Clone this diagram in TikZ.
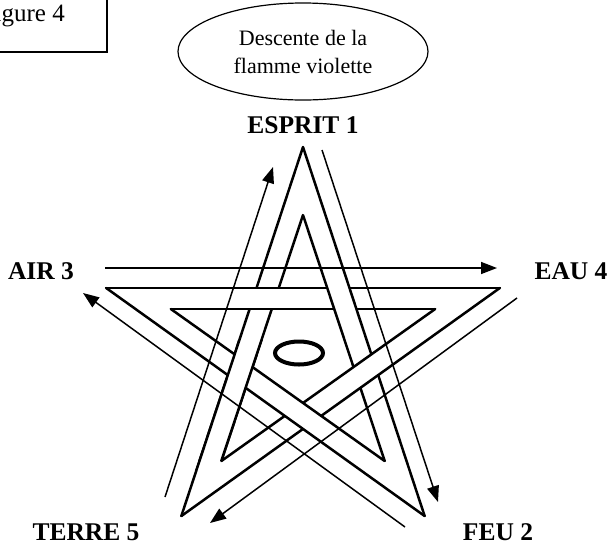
\documentclass[tikz,border=0pt]{standalone}
\usepackage{fontspec}
\setmainfont{Liberation Serif}
\usetikzlibrary{arrows.meta,shapes.geometric}

\tikzset{
  bandedge/.style={line width=2.5pt, line cap=round},
  flow/.style={line width=1.5pt, -{Triangle[length=16pt,width=12pt]}},
  element/.style={font=\fontsize{25.5}{30}\selectfont\bfseries, inner sep=0pt, anchor=base},
}

% one band of the star, from tip #1 to tip #2
\newcommand{\starband}[2]{%
  \fill[white] (o#1) -- (o#2) -- (i#2) -- (i#1) -- cycle;
  \draw[bandedge] (o#1) -- (o#2) (i#1) -- (i#2);
}

\begin{document}
\begin{tikzpicture}[x=1pt,y=-1pt]
    \path[use as bounding box, clip] (0,0) rectangle (612,547);
    \fill[white] (0,0) rectangle (612,547);

    % caption box, cut by the page edge
    \draw[line width=1.2pt] (-20,-20) rectangle (107,52);
    \node[font=\fontsize{25}{30}\selectfont, anchor=base east, inner sep=0pt] (fig) at (65,21) {Figure 4};

    \node[draw, ellipse, line width=1.2pt, minimum width=250pt, minimum height=97pt,
        align=center, font=\fontsize{22}{28}\selectfont] (flame) at (303,51.5)
        {Descente de la\\flamme violette};

    % tips of the star, outer and inner
    \coordinate (c) at (303,351);
    \foreach \n/\a in {T/-90,R/-18,BR/54,BL/126,L/198}{
        \path (c) ++(\a:207 and 204) coordinate (o\n)
              (c) ++(\a:139 and 136) coordinate (i\n);
    }

    % interlaced bands
    \starband{T}{BL}
    \starband{R}{L}
    \starband{T}{BR}
    \starband{BL}{R}
    \starband{L}{BR}
    \begin{scope}
        \clip (150,340) rectangle (300,470);
        \starband{T}{BL}
    \end{scope}

    \node[draw, ellipse, line width=4pt, minimum width=48pt, minimum height=23pt, inner sep=0pt] (halo) at (299,353) {};

    % labels
    \node[element] (esprit) at (303,133) {ESPRIT 1};
    \node[element] (air) at (41,279) {AIR 3};
    \node[element] (eau) at (571,279) {EAU 4};
    \node[element] (terre) at (86,540) {TERRE 5};
    \node[element] (feu) at (498,540) {FEU 2};

    % flow round the star
    \coordinate (terre-out) at (165,497);
    \coordinate (esprit-in) at (273,167);
    \coordinate (esprit-out) at (322,150);
    \coordinate (feu-in) at (438,502);
    \coordinate (air-out) at (105,268);
    \coordinate (eau-in) at (497,268);
    \coordinate (eau-out) at (517,298);
    \coordinate (terre-in) at (210,523);
    \coordinate (feu-out) at (405,527);
    \coordinate (air-in) at (83,293);
    \draw[flow] (terre-out) -- (esprit-in);
    \draw[flow] (esprit-out) -- (feu-in);
    \draw[flow] (air-out) -- (eau-in);
    \draw[flow] (eau-out) -- (terre-in);
    \draw[flow] (feu-out) -- (air-in);
\end{tikzpicture}
\end{document}
